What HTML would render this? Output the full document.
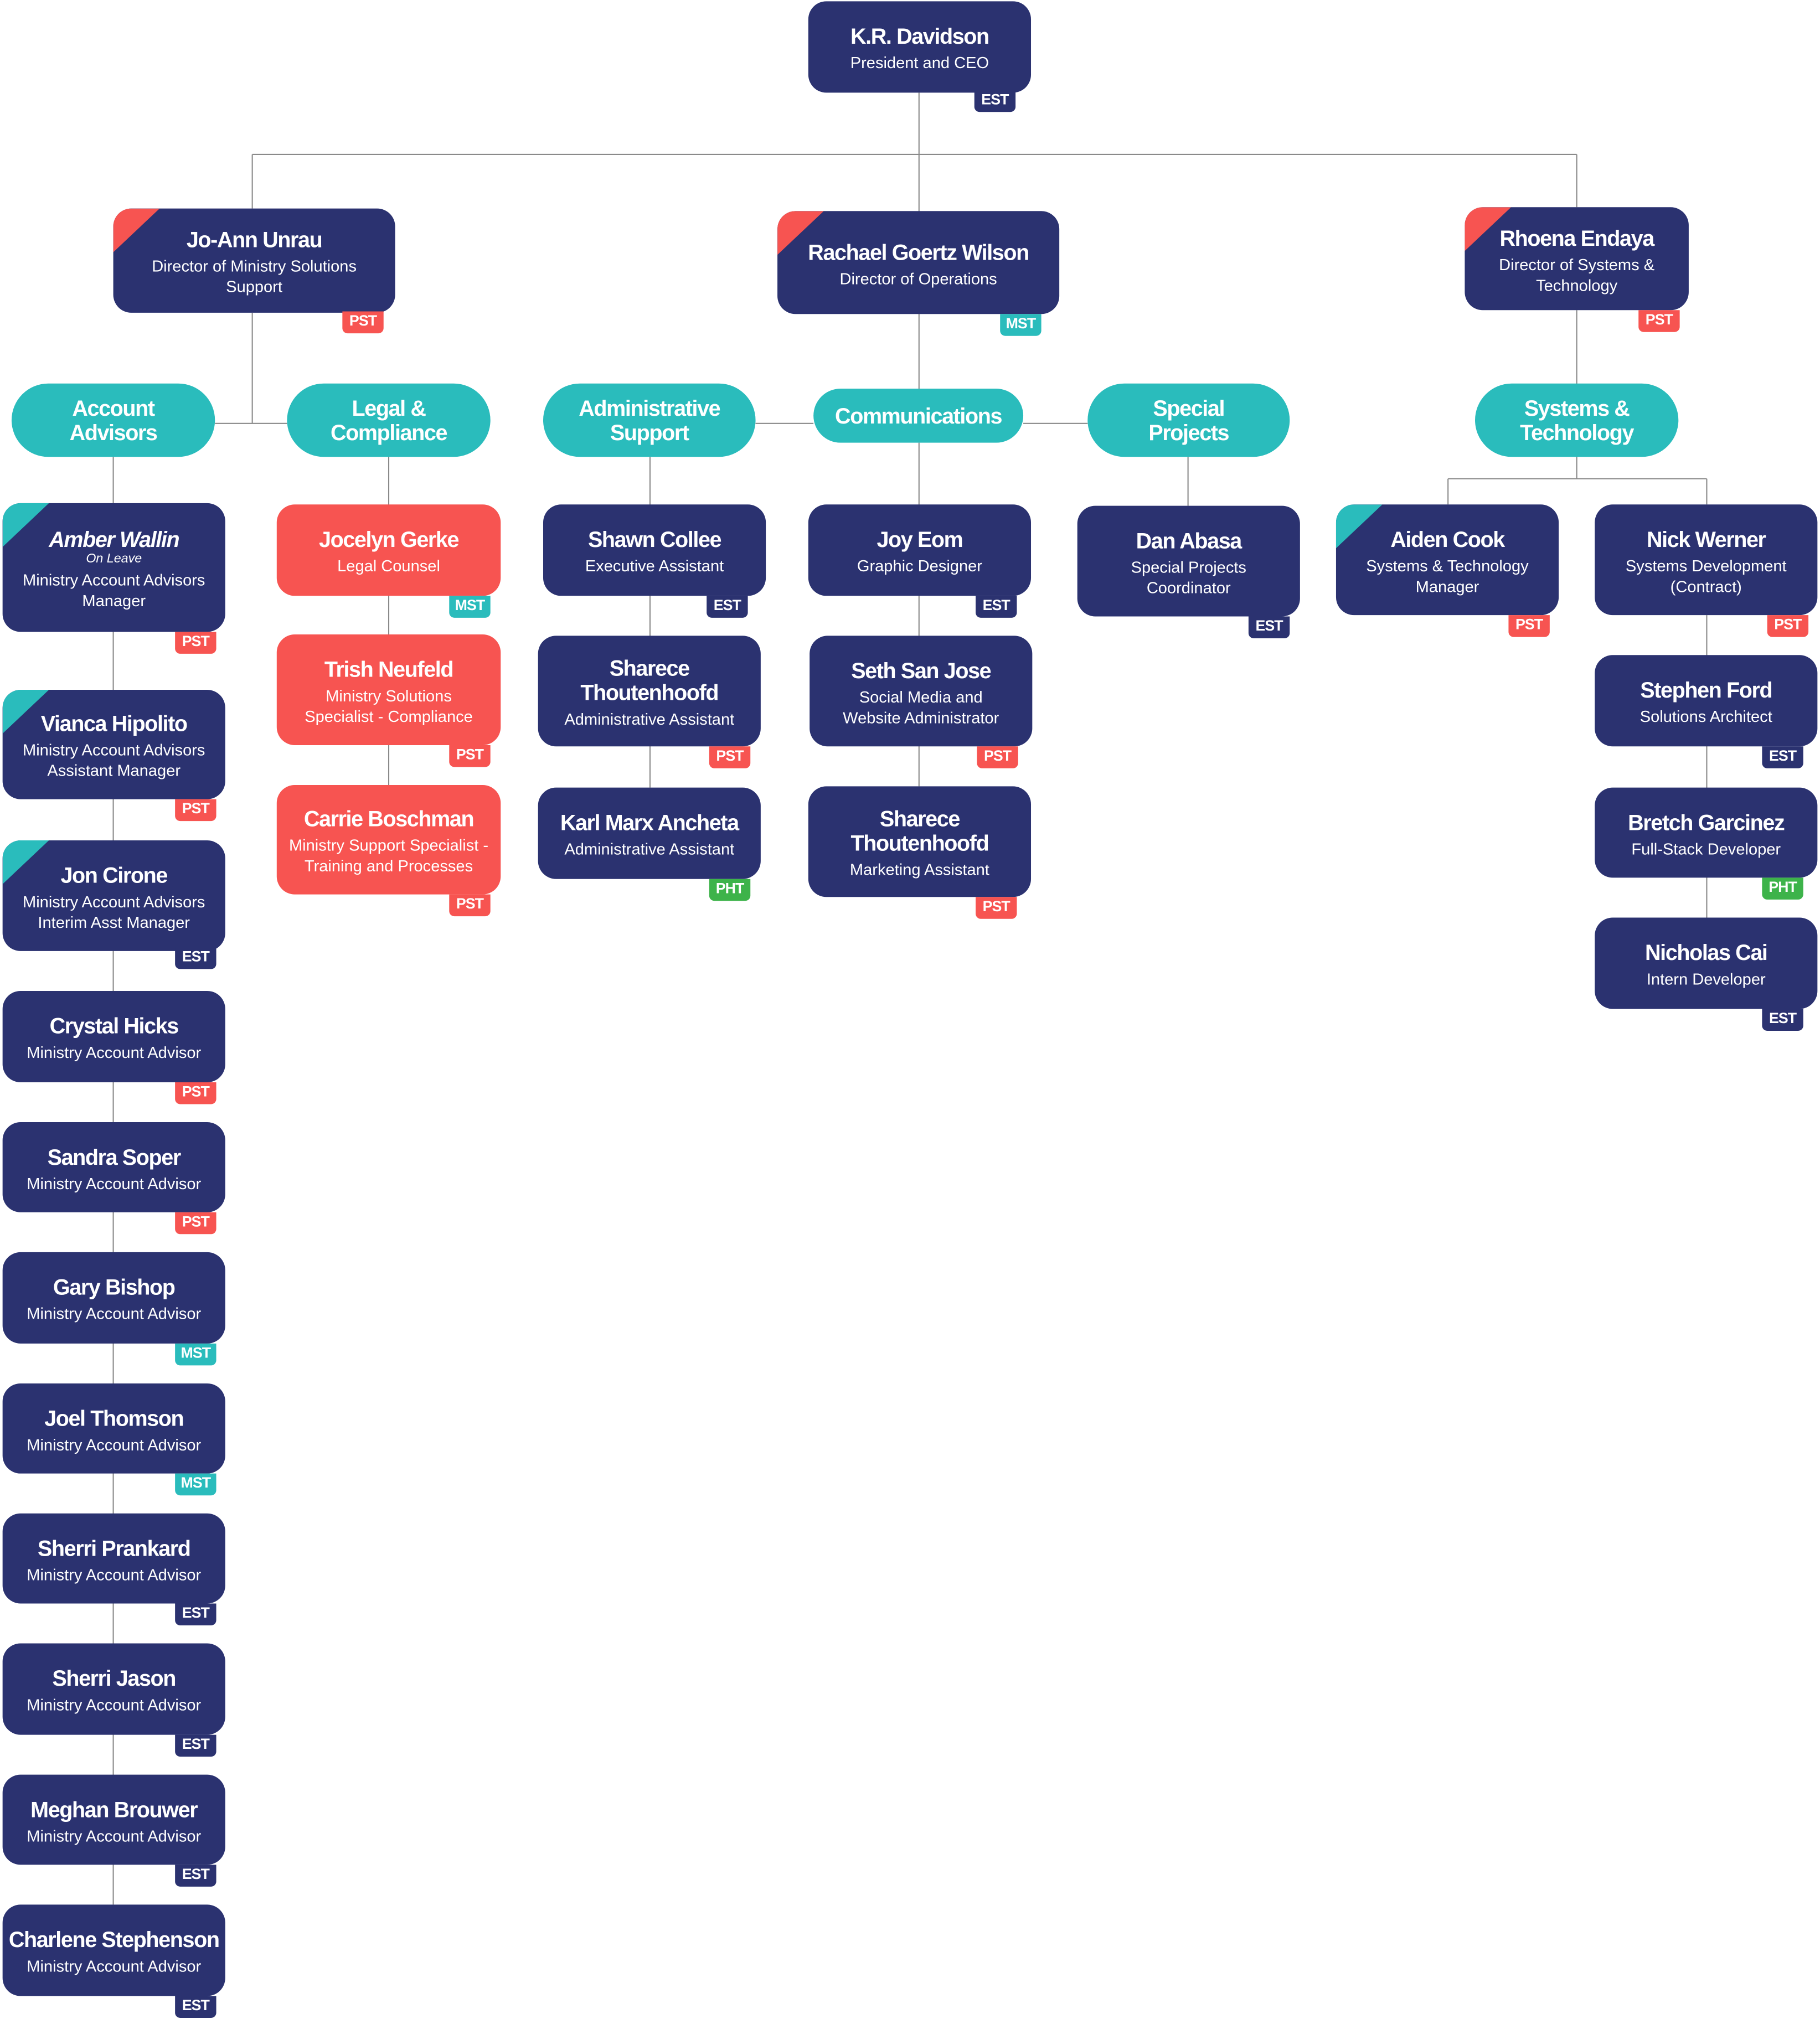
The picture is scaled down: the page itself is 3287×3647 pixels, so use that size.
<!DOCTYPE html>
<html><head><meta charset="utf-8"><style>
html,body{margin:0;padding:0;background:#fff;width:3287px;height:3647px;overflow:hidden}
#s{position:absolute;left:0;top:0;width:1414px;height:1569px;transform:scale(2.32461);transform-origin:0 0;font-family:"Liberation Sans",sans-serif}
.n{position:absolute;background:#2b3270;border-radius:14px;overflow:hidden;color:#fff;display:flex;flex-direction:column;align-items:center;justify-content:center;text-align:center;box-sizing:border-box;padding:3px 4px 0 4px}
.n b{font-size:17px;letter-spacing:-0.6px;line-height:19px;display:block}
.n span{font-size:12.5px;line-height:16px;display:block;margin-top:3px}
.n i{font-size:10px;line-height:11px;display:block}
.r{background:#f75451}
.p{position:absolute;background:#2abcbc;border-radius:29px;color:#fff;display:flex;align-items:center;justify-content:center;text-align:center;font-weight:bold;font-size:17px;line-height:19px;letter-spacing:-0.6px}
.t{position:absolute;left:0;top:0;width:36px;height:34px;clip-path:polygon(0 0,100% 0,0 100%)}
.tr{background:#f75451}.tt{background:#2abcbc}
.bd{position:absolute;width:32px;height:17px;border-radius:0 0 4px 4px;color:#fff;font-weight:bold;font-size:11.5px;line-height:17px;text-align:center;letter-spacing:-0.4px}
.E{background:#2b3270}.P{background:#f75451}.M{background:#2abcbc}.H{background:#3db34a}
svg{position:absolute;left:0;top:0}
</style></head><body><div id="s">
<svg width="1414" height="1569"><g stroke="#8a8a8a" stroke-width="0.9" fill="none">
<path d="M714 72V302M196 120H1225M196 120V162M1225 120V161"/>
<path d="M196 243V329M167 329H223"/>
<path d="M587 329H632M795 329H845"/>
<path d="M1225 241V372M1125 372H1326M1125 372V392M1326 372V392"/>
<path d="M88 355V1480M302 355V610M505 355V612M714 344V611M923 355V393M1326 478V713"/>
</g></svg>

<div class="n" style="left:628px;top:1px;width:173px;height:71px"><b>K.R. Davidson</b><span>President and CEO</span></div>
<div class="bd E" style="left:757px;top:70px">EST</div>

<div class="n" style="left:88px;top:162px;width:219px;height:81px"><div class="t tr"></div><b>Jo-Ann Unrau</b><span>Director of Ministry Solutions<br>Support</span></div>
<div class="bd P" style="left:266px;top:242px">PST</div>
<div class="n" style="left:604px;top:164px;width:219px;height:80px"><div class="t tr"></div><b>Rachael Goertz Wilson</b><span>Director of Operations</span></div>
<div class="bd M" style="left:777px;top:244px">MST</div>
<div class="n" style="left:1138px;top:161px;width:174px;height:80px"><div class="t tr"></div><b>Rhoena Endaya</b><span>Director of Systems &amp;<br>Technology</span></div>
<div class="bd P" style="left:1273px;top:241px">PST</div>

<div class="p" style="left:9px;top:298px;width:158px;height:57px">Account<br>Advisors</div>
<div class="p" style="left:223px;top:298px;width:158px;height:57px">Legal &amp;<br>Compliance</div>
<div class="p" style="left:422px;top:298px;width:165px;height:57px">Administrative<br>Support</div>
<div class="p" style="left:632px;top:302px;width:163px;height:42px">Communications</div>
<div class="p" style="left:845px;top:298px;width:157px;height:57px">Special<br>Projects</div>
<div class="p" style="left:1146px;top:298px;width:158px;height:57px">Systems &amp;<br>Technology</div>

<div class="n" style="left:2px;top:391px;width:173px;height:100px"><div class="t tt"></div><b><em>Amber Wallin</em></b><i>On Leave</i><span>Ministry Account Advisors<br>Manager</span></div>
<div class="bd P" style="left:136px;top:491px">PST</div>
<div class="n" style="left:2px;top:536px;width:173px;height:85px"><div class="t tt"></div><b>Vianca Hipolito</b><span>Ministry Account Advisors<br>Assistant Manager</span></div>
<div class="bd P" style="left:136px;top:621px">PST</div>
<div class="n" style="left:2px;top:653px;width:173px;height:86px"><div class="t tt"></div><b>Jon Cirone</b><span>Ministry Account Advisors<br>Interim Asst Manager</span></div>
<div class="bd E" style="left:136px;top:736px">EST</div>
<div class="n" style="left:2px;top:770px;width:173px;height:71px"><b>Crystal Hicks</b><span>Ministry Account Advisor</span></div>
<div class="bd P" style="left:136px;top:841px">PST</div>
<div class="n" style="left:2px;top:872px;width:173px;height:70px"><b>Sandra Soper</b><span>Ministry Account Advisor</span></div>
<div class="bd P" style="left:136px;top:942px">PST</div>
<div class="n" style="left:2px;top:973px;width:173px;height:71px"><b>Gary Bishop</b><span>Ministry Account Advisor</span></div>
<div class="bd M" style="left:136px;top:1044px">MST</div>
<div class="n" style="left:2px;top:1075px;width:173px;height:70px"><b>Joel Thomson</b><span>Ministry Account Advisor</span></div>
<div class="bd M" style="left:136px;top:1145px">MST</div>
<div class="n" style="left:2px;top:1176px;width:173px;height:70px"><b>Sherri Prankard</b><span>Ministry Account Advisor</span></div>
<div class="bd E" style="left:136px;top:1246px">EST</div>
<div class="n" style="left:2px;top:1277px;width:173px;height:71px"><b>Sherri Jason</b><span>Ministry Account Advisor</span></div>
<div class="bd E" style="left:136px;top:1348px">EST</div>
<div class="n" style="left:2px;top:1379px;width:173px;height:70px"><b>Meghan Brouwer</b><span>Ministry Account Advisor</span></div>
<div class="bd E" style="left:136px;top:1449px">EST</div>
<div class="n" style="left:2px;top:1480px;width:173px;height:71px"><b>Charlene Stephenson</b><span>Ministry Account Advisor</span></div>
<div class="bd E" style="left:136px;top:1551px">EST</div>

<div class="n r" style="left:215px;top:392px;width:174px;height:71px"><b>Jocelyn Gerke</b><span>Legal Counsel</span></div>
<div class="bd M" style="left:349px;top:463px">MST</div>
<div class="n r" style="left:215px;top:493px;width:174px;height:86px"><b>Trish Neufeld</b><span>Ministry Solutions<br>Specialist - Compliance</span></div>
<div class="bd P" style="left:349px;top:579px">PST</div>
<div class="n r" style="left:215px;top:610px;width:174px;height:85px"><b>Carrie Boschman</b><span>Ministry Support Specialist -<br>Training and Processes</span></div>
<div class="bd P" style="left:349px;top:695px">PST</div>

<div class="n" style="left:422px;top:392px;width:173px;height:71px"><b>Shawn Collee</b><span>Executive Assistant</span></div>
<div class="bd E" style="left:549px;top:463px">EST</div>
<div class="n" style="left:418px;top:494px;width:173px;height:86px"><b>Sharece<br>Thoutenhoofd</b><span>Administrative Assistant</span></div>
<div class="bd P" style="left:551px;top:580px">PST</div>
<div class="n" style="left:418px;top:612px;width:173px;height:71px"><b>Karl Marx Ancheta</b><span>Administrative Assistant</span></div>
<div class="bd H" style="left:551px;top:683px">PHT</div>

<div class="n" style="left:628px;top:392px;width:173px;height:71px"><b>Joy Eom</b><span>Graphic Designer</span></div>
<div class="bd E" style="left:758px;top:463px">EST</div>
<div class="n" style="left:629px;top:494px;width:173px;height:86px"><b>Seth San Jose</b><span>Social Media and<br>Website Administrator</span></div>
<div class="bd P" style="left:759px;top:580px">PST</div>
<div class="n" style="left:628px;top:611px;width:173px;height:86px"><b>Sharece<br>Thoutenhoofd</b><span>Marketing Assistant</span></div>
<div class="bd P" style="left:758px;top:697px">PST</div>

<div class="n" style="left:837px;top:393px;width:173px;height:86px"><b>Dan Abasa</b><span>Special Projects<br>Coordinator</span></div>
<div class="bd E" style="left:970px;top:479px">EST</div>

<div class="n" style="left:1038px;top:392px;width:173px;height:86px"><div class="t tt"></div><b>Aiden Cook</b><span>Systems &amp; Technology<br>Manager</span></div>
<div class="bd P" style="left:1172px;top:478px">PST</div>
<div class="n" style="left:1239px;top:392px;width:173px;height:86px"><b>Nick Werner</b><span>Systems Development<br>(Contract)</span></div>
<div class="bd P" style="left:1373px;top:478px">PST</div>
<div class="n" style="left:1239px;top:509px;width:173px;height:71px"><b>Stephen Ford</b><span>Solutions Architect</span></div>
<div class="bd E" style="left:1369px;top:580px">EST</div>
<div class="n" style="left:1239px;top:612px;width:173px;height:70px"><b>Bretch Garcinez</b><span>Full-Stack Developer</span></div>
<div class="bd H" style="left:1369px;top:682px">PHT</div>
<div class="n" style="left:1239px;top:713px;width:173px;height:71px"><b>Nicholas Cai</b><span>Intern Developer</span></div>
<div class="bd E" style="left:1369px;top:784px">EST</div>
</div></body></html>
